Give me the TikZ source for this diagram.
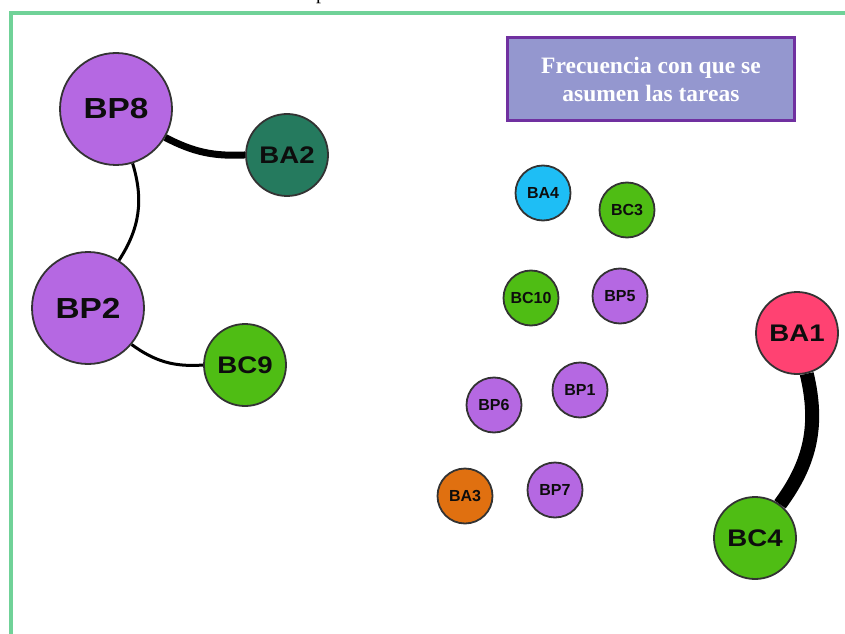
\documentclass[tikz,border=0pt]{standalone}
\usepackage{fontspec}
\setmainfont{Liberation Serif}
\newfontfamily\nodefont{Liberation Sans}
\newfontfamily\widenodefont[FakeStretch=1.15]{Liberation Sans}
\usepackage{tikz}
\definecolor{framecol}{RGB}{112,210,152}
\definecolor{boxfill}{RGB}{148,151,207}
\definecolor{boxline}{RGB}{112,48,160}
\definecolor{bpcol}{RGB}{181,104,226}
\definecolor{bacol}{RGB}{37,122,94}
\definecolor{bccol}{RGB}{79,189,20}
\definecolor{cyancol}{RGB}{30,190,245}
\definecolor{orangecol}{RGB}{224,112,16}
\definecolor{pinkcol}{RGB}{255,66,114}
\begin{document}
\begin{tikzpicture}[x=1pt, y=1pt,
  vertex/.style={circle, draw=black!80, line width=1.8pt, inner sep=0pt, text=black!95},
  big/.style={vertex, minimum size=112pt, font=\widenodefont\bfseries\fontsize{29}{29}\selectfont},
  mid/.style={vertex, minimum size=82pt, font=\widenodefont\bfseries\fontsize{24}{24}\selectfont},
  small/.style={vertex, minimum size=55pt, font=\nodefont\bfseries\fontsize{16}{16}\selectfont},
  link/.style={line width=3pt}]
\useasboundingbox (0,0) rectangle (845,633);
\draw[framecol][line width=4pt] (10.5,-5) -- (10.5,620) -- (850,620);
\node[anchor=base west, inner sep=0pt, font=\fontsize{20}{20}\selectfont] (cut) at (316,633) {p};
\node[draw=boxline, fill=boxfill, line width=3pt, minimum width=287pt, minimum height=83pt, text=white, align=center, font=\bfseries\fontsize{23.5}{28}\selectfont] (title) at (651,554) {Frecuencia con que se\\asumen las tareas};
\node[big, fill=bpcol] (BP8) at (116,524) {BP8};
\node[mid, fill=bacol] (BA2) at (287,478) {BA2};
\node[big, fill=bpcol] (BP2) at (88,325) {BP2};
\node[mid, fill=bccol] (BC9) at (245,268) {BC9};
\node[small, fill=cyancol] (BA4) at (543,440) {BA4};
\node[small, fill=bccol] (BC3) at (627,423) {BC3};
\node[small, fill=bccol] (BC10) at (531,335) {BC10};
\node[small, fill=bpcol] (BP5) at (620,337) {BP5};
\node[small, fill=bpcol] (BP1) at (580,243) {BP1};
\node[small, fill=bpcol] (BP6) at (494,228) {BP6};
\node[small, fill=orangecol] (BA3) at (465,137) {BA3};
\node[small, fill=bpcol] (BP7) at (555,143) {BP7};
\node[mid, fill=pinkcol] (BA1) at (797,300) {BA1};
\node[mid, fill=bccol] (BC4) at (755,95) {BC4};
\draw[link][line width=7pt] (BP8) to[bend right=15] (BA2);
\draw[link] (BP8) to[bend left=25] (BP2);
\draw[link] (BP2) to[bend right=20] (BC9);
\draw[link][line width=14pt] (BA1) to[bend left=25] (BC4);
\end{tikzpicture}
\end{document}
